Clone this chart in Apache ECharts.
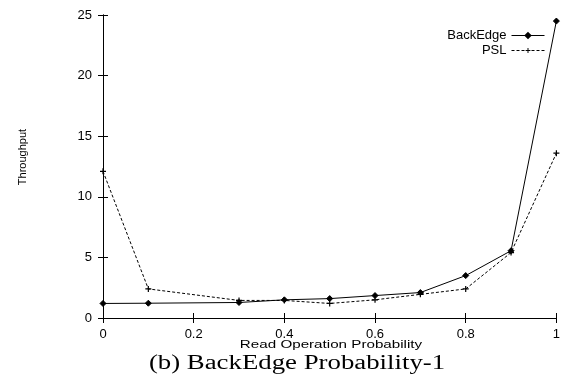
<!DOCTYPE html>
<html><head><meta charset="utf-8">
<script src="https://cdn.jsdelivr.net/npm/echarts@6/dist/echarts.min.js"></script>
<style>html,body{margin:0;padding:0;background:#fff}#c{width:563px;height:381px}</style>
</head><body><div id="c"></div>
<script>
const xValues = [0, 0.1, 0.3, 0.4, 0.5, 0.6, 0.7, 0.8, 0.9, 1];
const backEdge = [1.2, 1.22, 1.28, 1.5, 1.6, 1.85, 2.1, 3.5, 5.55, 24.5];
const psl = [12.1, 2.4, 1.45, 1.45, 1.2, 1.5, 1.95, 2.4, 5.4, 13.6];
const seriesNames = ['BackEdge', 'PSL'];
const xTitle = 'Read Operation Probability';
const yTitle = 'Throughput';
const caption = '(b) BackEdge Probability-1';

const font = 'Liberation Sans';
const plus = 'path://M4,0L6,0L6,4L10,4L10,6L6,6L6,10L4,10L4,6L0,6L0,4L4,4Z';
const chart = echarts.init(document.getElementById('c'), null, {renderer: 'canvas'});
const axisLine = {show: true, lineStyle: {color: '#000', width: 1}};
const tick = {show: true, inside: true, length: 5, lineStyle: {color: '#000'}};
chart.setOption({
  animation: false,
  backgroundColor: '#fff',
  grid: {left: 103, right: 5, top: 15, bottom: 63},
  graphic: [
    {type: 'text', x: 297, y: 364, scaleX: 1.34, silent: true,
     style: {text: caption, font: '20px "Liberation Serif"', fill: '#000', textAlign: 'center', textVerticalAlign: 'middle'}},
    {type: 'text', x: 331, y: 345, scaleX: 1.38, silent: true,
     style: {text: xTitle, font: '11px "Liberation Sans"', fill: '#000', textAlign: 'center', textVerticalAlign: 'middle'}},
    {type: 'text', x: 23, y: 157, rotation: Math.PI / 2, silent: true,
     style: {text: yTitle, font: '11px "Liberation Sans"', fill: '#000', textAlign: 'center', textVerticalAlign: 'middle'}}
  ],
  legend: {orient: 'vertical', right: 13, top: 24, align: 'right', itemWidth: 33, itemHeight: 6, itemGap: 2,
    lineStyle: {width: 1},
    textStyle: {fontFamily: font, fontSize: 13, lineHeight: 10, color: '#000', padding: [0, 0, 0, 0]},
    data: seriesNames},
  xAxis: [
    {type: 'value', min: 0, max: 1, interval: 0.2, axisLine, axisTick: tick, splitLine: {show: false},
     axisLabel: {fontFamily: font, fontSize: 13, color: '#000', margin: 10}},
    {type: 'value', position: 'top', min: 0, max: 1, interval: 0.2, axisLine, axisTick: tick,
     axisLabel: {show: false}, splitLine: {show: false}}
  ],
  yAxis: [
    {type: 'value', min: 0, max: 25, interval: 5, axisLine, axisTick: tick, splitLine: {show: false},
     axisLabel: {fontFamily: font, fontSize: 13, color: '#000', margin: 11}},
    {type: 'value', position: 'right', min: 0, max: 25, interval: 5, axisLine, axisTick: tick,
     axisLabel: {show: false}, splitLine: {show: false}}
  ],
  series: [
    {name: seriesNames[0], type: 'line', data: xValues.map((x, i) => [x, backEdge[i]]),
     symbol: 'diamond', symbolSize: 6, showAllSymbol: true,
     lineStyle: {color: '#000', width: 1}, itemStyle: {color: '#000', borderColor: '#000', borderWidth: 1}},
    {name: seriesNames[1], type: 'line', data: xValues.map((x, i) => [x, psl[i]]),
     symbol: plus, symbolSize: 6, showAllSymbol: true,
     lineStyle: {color: '#000', width: 1, type: [3, 2]}, itemStyle: {color: '#000'}}
  ]
});
</script></body></html>
